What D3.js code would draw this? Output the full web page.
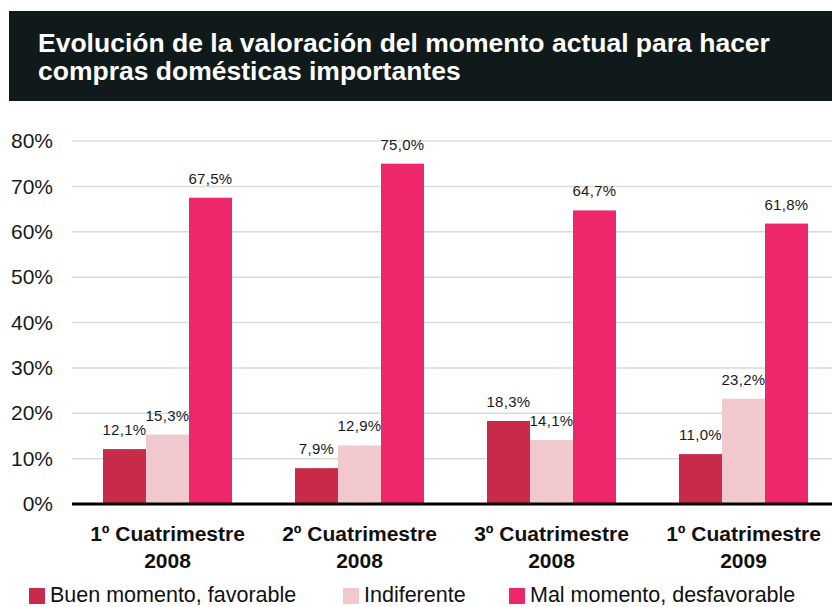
<!DOCTYPE html>
<html>
<head>
<meta charset="utf-8">
<script src="https://cdn.jsdelivr.net/npm/d3@7/dist/d3.min.js"></script>
<style>
  html, body { margin: 0; padding: 0; background: #fff; }
  svg { display: block; }
  text { font-family: "Liberation Sans", Arial, Helvetica, sans-serif; }
</style>
</head>
<body>
<svg id="chart" width="832" height="607"></svg>
<script>
const titleLines = ["Evolución de la valoración del momento actual para hacer", "compras domésticas importantes"];
const categories = [["1º Cuatrimestre", "2008"], ["2º Cuatrimestre", "2008"], ["3º Cuatrimestre", "2008"], ["1º Cuatrimestre", "2009"]];
const seriesNames = ["Buen momento, favorable", "Indiferente", "Mal momento, desfavorable"];
const buenMomento = [12.1, 7.9, 18.3, 11.0];
const indiferente = [15.3, 12.9, 14.1, 23.2];
const malMomento = [67.5, 75.0, 64.7, 61.8];
const yTicks = [0, 10, 20, 30, 40, 50, 60, 70, 80];
const colors = ["#c82a49", "#f1c8cd", "#ee266b"];

const seriesValues = [buenMomento, indiferente, malMomento];
const svg = d3.select("#chart");

// Title box
svg.append("rect").attr("x", 9).attr("y", 11).attr("width", 823).attr("height", 90).attr("fill", "#111a1a");
svg.append("g").selectAll("text").data(titleLines).join("text")
  .attr("x", 38).attr("y", (d, i) => 52 + i * 28)
  .attr("fill", "#ffffff").attr("font-size", 26.5).attr("font-weight", "bold")
  .text(d => d);

const y = d3.scaleLinear().domain([0, 80]).range([504, 141]);
const catKeys = categories.map((c, i) => i);
const x0 = d3.scaleBand().domain(catKeys).range([71.5, 839.5]);
const groupW = 129;
const x1 = d3.scaleBand().domain(seriesNames).range([0, groupW]);
const groupOff = (x0.bandwidth() - groupW) / 2;

// Gridlines
svg.append("g").selectAll("line").data(yTicks.filter(t => t > 0)).join("line")
  .attr("x1", 72).attr("x2", 832)
  .attr("y1", d => y(d)).attr("y2", d => y(d))
  .attr("stroke", "#dadada").attr("stroke-width", 1.5);

// Y axis
const yAxis = svg.append("g").attr("transform", "translate(72,0)")
  .call(d3.axisLeft(y).tickValues(yTicks).tickSize(0).tickPadding(19).tickFormat(d => d + "%"));
yAxis.select(".domain").remove();
yAxis.selectAll("text").attr("font-size", 21).attr("fill", "#1a1a1a")
  .attr("font-family", "'Liberation Sans', Arial, sans-serif");

// Bars
const rows = [];
categories.forEach((c, ci) => {
  seriesNames.forEach((s, si) => rows.push({ ci, s, si, v: seriesValues[si][ci] }));
});
svg.append("g").selectAll("rect").data(rows).join("rect")
  .attr("x", d => x0(d.ci) + groupOff + x1(d.s))
  .attr("y", d => y(d.v))
  .attr("width", x1.bandwidth())
  .attr("height", d => y(0) - y(d.v))
  .attr("fill", d => colors[d.si]);

// Value labels
svg.append("g").selectAll("text").data(rows).join("text")
  .attr("x", d => x0(d.ci) + groupOff + x1(d.s) + x1.bandwidth() / 2)
  .attr("y", d => y(d.v) - 14)
  .attr("text-anchor", "middle").attr("font-size", 15).attr("fill", "#1a1a1a")
  .attr("letter-spacing", 0.3)
  .text(d => d.v.toFixed(1).replace(".", ",") + "%");

// Baseline
svg.append("line").attr("x1", 72).attr("x2", 832).attr("y1", y(0)).attr("y2", y(0))
  .attr("stroke", "#000").attr("stroke-width", 3);

// Category labels
const catG = svg.append("g").selectAll("text").data(categories).join("text")
  .attr("text-anchor", "middle").attr("font-size", 21).attr("font-weight", "bold").attr("fill", "#111");
catG.selectAll("tspan").data((d, i) => d.map(t => ({ t, i }))).join("tspan")
  .attr("x", d => x0(d.i) + x0.bandwidth() / 2)
  .attr("y", (d, j) => 541 + j * 27)
  .text(d => d.t);

// Legend
const legendX = [29, 343, 509];
const lg = svg.append("g").selectAll("g").data(seriesNames).join("g")
  .attr("transform", (d, i) => `translate(${legendX[i]},588)`);
lg.append("rect").attr("width", 16).attr("height", 16).attr("fill", (d, i) => colors[i]);
lg.append("text").attr("x", 21).attr("y", 14).attr("font-size", 21.5).attr("fill", "#111").text(d => d);
</script>
</body>
</html>
